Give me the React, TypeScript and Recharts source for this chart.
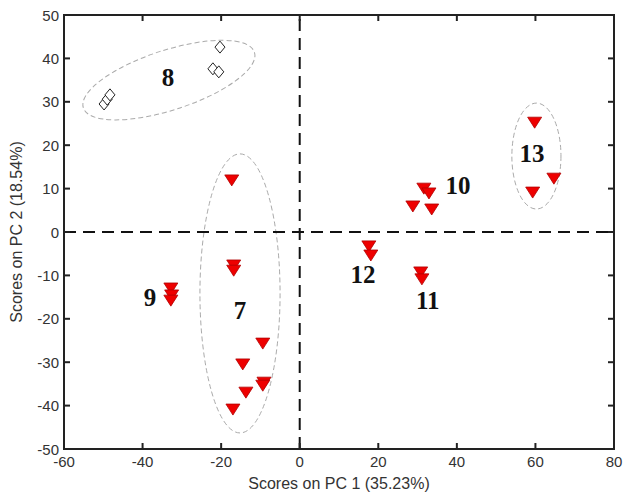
import React from 'react';
import {
  ScatterChart, Scatter, XAxis, YAxis, ReferenceLine, ReferenceArea, Label,
} from 'recharts';

// PC scores
const diamondX = [-20.3, -22.1, -20.6, -49.8, -49.0, -48.3];
const diamondY = [42.6, 37.6, 36.9, 29.5, 30.6, 31.6];

const triX = [
  -17.3, -16.8, -16.8, -9.4, -14.5, -9.1, -9.4, -13.7, -17.0, // 7
  -32.8, -32.6, -32.8,                                         // 9
  31.6, 32.9, 28.8, 33.6,                                      // 10
  59.8, 64.7, 59.3,                                            // 13
  17.6, 18.1,                                                  // 12
  30.8, 31.1,                                                  // 11
];
const triY = [
  12.0, -7.6, -8.8, -25.6, -30.4, -34.6, -35.3, -36.9, -40.8,
  -12.9, -14.5, -15.7,
  10.1, 9.0, 6.0, 5.3,
  25.3, 12.4, 9.2,
  -3.2, -5.3,
  -9.2, -10.8,
];

const groupNames = ['8', '7', '9', '10', '13', '12', '11'];
const groupLabelX = [-33.5, -15.2, -38.1, 40.3, 59.1, 16.1, 32.6];
const groupLabelY = [35.7, -18.0, -15.0, 10.6, 18.2, -9.9, -15.7];

const xTicks = [-60, -40, -20, 0, 20, 40, 60, 80];
const yTicks = [-50, -40, -30, -20, -10, 0, 10, 20, 30, 40, 50];

// cluster outlines: x1, x2, y1, y2 of the unrotated ellipse, plus tilt in degrees
const ellipseX1 = [-56.2, -25.4, 54.0];
const ellipseX2 = [-10.4, -5.0, 66.5];
const ellipseY1 = [28.1, -46.3, 5.3];
const ellipseY2 = [41.9, 18.0, 29.7];
const ellipseTilt = [-18, 0, 0];

const diamonds = diamondX.map((x, i) => ({ x, y: diamondY[i] }));
const triangles = triX.map((x, i) => ({ x, y: triY[i] }));
const labels = groupNames.map((t, i) => ({ x: groupLabelX[i], y: groupLabelY[i], t }));

const W = 629;
const H = 500;
const MARGIN = { top: 15, right: 15, bottom: 0, left: 4 };
const X_AXIS_H = 51;
const Y_AXIS_W = 60;
const PLOT_X = MARGIN.left + Y_AXIS_W;
const PLOT_W = W - MARGIN.left - MARGIN.right - Y_AXIS_W;
const PLOT_H = H - MARGIN.top - MARGIN.bottom - X_AXIS_H;

const TICK_FONT = { fontFamily: 'Liberation Sans, Arial, sans-serif', fontSize: 15, fill: '#333' };
const AXIS = '#222';

const DownTriangle = (p: any) => {
  const { cx, cy } = p;
  return (
    <polygon
      points={`${cx - 7},${cy - 5} ${cx + 7},${cy - 5} ${cx},${cy + 6}`}
      fill="#ee0000" stroke="#b00000" strokeWidth={0.8}
    />
  );
};

const Diamond = (p: any) => {
  const { cx, cy } = p;
  return (
    <polygon
      points={`${cx},${cy - 6} ${cx + 5},${cy} ${cx},${cy + 6} ${cx - 5},${cy}`}
      fill="#fff" stroke="#222" strokeWidth={1}
    />
  );
};

const GroupText = (p: any) => (
  <text
    x={p.cx} y={p.cy} textAnchor="middle" dominantBaseline="central"
    fontFamily="Liberation Serif, Times New Roman, serif" fontWeight="bold" fontSize={25} fill="#111"
  >
    {p.payload.t}
  </text>
);

const ellipseShape = (tilt: number) => (p: any) => {
  const { x, y, width, height } = p;
  const cx = x + width / 2;
  const cy = y + height / 2;
  return (
    <ellipse
      cx={cx} cy={cy} rx={Math.abs(width) / 2} ry={Math.abs(height) / 2}
      transform={`rotate(${tilt} ${cx} ${cy})`}
      fill="none" stroke="#aaa" strokeWidth={1} strokeDasharray="5 3"
    />
  );
};

// bottom tick + mirrored top tick, both pointing inward
const BottomTick = (p: any) => {
  const top = p.y - PLOT_H;
  return (
    <g>
      <line x1={p.x} y1={p.y} x2={p.x} y2={p.y - 6} stroke={AXIS} strokeWidth={2} />
      <line x1={p.x} y1={top} x2={p.x} y2={top + 6} stroke={AXIS} strokeWidth={2} />
      <text x={p.x} y={p.y + 12} textAnchor="middle" dominantBaseline="central" {...TICK_FONT}>
        {p.payload.value}
      </text>
    </g>
  );
};

// left tick + mirrored right tick, both pointing inward
const LeftTick = (p: any) => {
  const right = p.x + PLOT_W;
  return (
    <g>
      <line x1={p.x} y1={p.y} x2={p.x + 6} y2={p.y} stroke={AXIS} strokeWidth={2} />
      <line x1={right} y1={p.y} x2={right - 6} y2={p.y} stroke={AXIS} strokeWidth={2} />
      <text x={p.x - 5} y={p.y} textAnchor="end" dominantBaseline="central" {...TICK_FONT}>
        {p.payload.value}
      </text>
    </g>
  );
};

const YTitle = (p: any) => {
  const { viewBox } = p;
  const cx = viewBox.x + 12;
  const cy = viewBox.y + viewBox.height / 2;
  return (
    <text
      x={cx} y={cy} transform={`rotate(-90 ${cx} ${cy})`}
      textAnchor="middle" dominantBaseline="central" {...TICK_FONT} fontSize={16}
    >
      Scores on PC 2 (18.54%)
    </text>
  );
};

const XTitle = (p: any) => {
  const { viewBox } = p;
  const cx = viewBox.x + viewBox.width / 2;
  const cy = viewBox.y + 34;
  return (
    <text x={cx} y={cy} textAnchor="middle" dominantBaseline="central" {...TICK_FONT} fontSize={16}>
      Scores on PC 1 (35.23%)
    </text>
  );
};

export default function App() {
  return (
    <div style={{ position: 'absolute', left: 0, top: 0, width: W, height: H, background: '#fff' }}>
      <ScatterChart width={W} height={H} margin={MARGIN}>
        <XAxis
          type="number" dataKey="x" domain={[-60, 80]} ticks={xTicks} interval={0}
          height={X_AXIS_H} tickSize={0} tickMargin={0} tickLine={false} tick={BottomTick}
          axisLine={{ stroke: AXIS, strokeWidth: 2 }}
        >
          <Label content={XTitle} />
        </XAxis>
        <YAxis
          type="number" dataKey="y" domain={[-50, 50]} ticks={yTicks} interval={0}
          width={Y_AXIS_W} tickSize={0} tickMargin={0} tickLine={false} tick={LeftTick}
          axisLine={{ stroke: AXIS, strokeWidth: 2 }}
        >
          <Label content={YTitle} />
        </YAxis>

        {ellipseX1.map((x1, i) => (
          <ReferenceArea
            key={i} x1={x1} x2={ellipseX2[i]} y1={ellipseY1[i]} y2={ellipseY2[i]}
            ifOverflow="visible" shape={ellipseShape(ellipseTilt[i])}
          />
        ))}

        <ReferenceLine y={0} stroke="#111" strokeWidth={2} strokeDasharray="12 7" />
        <ReferenceLine x={0} stroke="#111" strokeWidth={2} strokeDasharray="12 7" />

        <Scatter data={diamonds} shape={Diamond} isAnimationActive={false} />
        <Scatter data={triangles} shape={DownTriangle} isAnimationActive={false} />
        <Scatter data={labels} shape={GroupText} isAnimationActive={false} />
      </ScatterChart>
      {/* plot box frame laid over the chart area */}
      <svg
        width={W} height={H}
        style={{ position: 'absolute', left: 0, top: 0, pointerEvents: 'none' }}
      >
        <rect
          x={PLOT_X} y={MARGIN.top} width={PLOT_W} height={PLOT_H}
          fill="none" stroke={AXIS} strokeWidth={2}
        />
      </svg>
    </div>
  );
}
